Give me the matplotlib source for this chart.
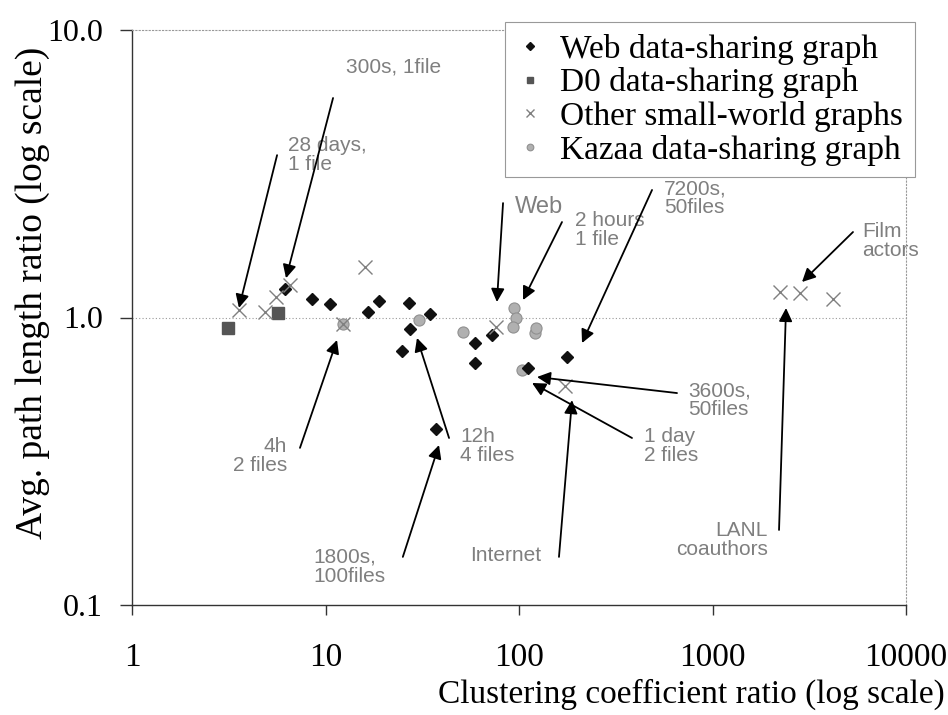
import matplotlib
matplotlib.use('Agg')
import matplotlib.pyplot as plt

# clustering coefficient ratio / avg. path length ratio for each graph family
web_cc = [6.18, 8.51, 10.5, 16.6, 18.9, 27.0, 34.7, 27.3, 24.8, 37.2, 59.3, 59.3, 72.5, 111, 177]
web_pl = [1.256, 1.16, 1.11, 1.045, 1.14, 1.12, 1.03, 0.912, 0.765, 0.41, 0.815, 0.695, 0.87, 0.667, 0.729]

d0_cc = [3.13, 5.68]
d0_pl = [0.919, 1.036]

other_cc = [3.57, 4.87, 5.55, 6.55, 16.0, 12.3, 76.1, 173, 2233, 2833, 4196]
other_pl = [1.06, 1.045, 1.18, 1.30, 1.50, 0.95, 0.927, 0.578, 1.23, 1.22, 1.16]

kazaa_cc = [12.3, 30.4, 51.4, 94.0, 96.0, 93.0, 121, 123, 103.6]
kazaa_pl = [0.95, 0.98, 0.89, 1.08, 0.995, 0.927, 0.88, 0.92, 0.656]

x_ticks = [1, 10, 100, 1000, 10000]
x_ticklabels = ['1', '10', '100', '1000', '10000']
y_ticks = [0.1, 1.0, 10.0]
y_ticklabels = ['0.1', '1.0', '10.0']

# callouts: label, text position, alignment, arrow tail, arrow head (data coords)
notes = [
    ('300s, 1file', (12.76, 7.44), 'left', (10.94, 5.80), (6.25, 1.37)),
    ('28 days,\n1 file', (6.40, 3.67), 'left', (5.62, 3.67), (3.57, 1.08)),
    ('4h\n2 files', (6.32, 0.330), 'right', (7.38, 0.352), (11.47, 0.835)),
    ('12h\n4 files', (49.6, 0.357), 'left', (43.5, 0.381), (29.7, 0.849)),
    ('1800s,\n100files', (8.62, 0.1356), 'left', (25.1, 0.147), (38.6, 0.360)),
    ('2 hours\n1 file', (194.7, 2.015), 'left', (166.8, 2.148), (104.9, 1.15)),
    ('7200s,\n50files', (561, 2.604), 'left', (487, 2.777), (211.7, 0.815)),
    ('3600s,\n50files', (747, 0.516), 'left', (655.5, 0.546), (123.9, 0.621)),
    ('1 day\n2 files', (442.6, 0.357), 'left', (383.6, 0.381), (116.8, 0.592)),
    ('Internet', (55.8, 0.149), 'left', (160.9, 0.147), (187.9, 0.516)),
    ('LANL\ncoauthors', (1936, 0.168), 'right', (2207, 0.1824), (2399, 1.079)),
    ('Film\nactors', (5925, 1.846), 'left', (5322, 1.983), (2901, 1.329)),
]
web_note = ('Web', (95.3, 2.423), (82.7, 2.50), (76.9, 1.132))

serif = ['Liberation Serif', 'DejaVu Serif']
sans = ['Liberation Sans', 'DejaVu Sans']

fig = plt.figure(figsize=(9.48, 7.15), dpi=100)
ax = fig.add_axes([132 / 948, 110 / 715, 774 / 948, 575 / 715])
ax.set_xscale('log')
ax.set_yscale('log')
ax.set_xlim(1, 10000)
ax.set_ylim(0.1, 10)

ax.axhline(1.0, color='#999999', lw=0.8, ls=(0, (1, 2)), zorder=1)

ax.plot(web_cc, web_pl, ls='none', marker='D', ms=6.4, color='#111111',
        label='Web data-sharing graph', zorder=4)
ax.plot(d0_cc, d0_pl, ls='none', marker='s', ms=8, color='#555555',
        label='D0 data-sharing graph', zorder=3)
ax.plot(other_cc, other_pl, ls='none', marker='x', ms=10, mew=1.0, color='#808080',
        label='Other small-world graphs', zorder=5)
ax.plot(kazaa_cc, kazaa_pl, ls='none', marker='o', ms=8, color='#b0b0b0',
        mec='#909090', mew=0.8, label='Kazaa data-sharing graph', zorder=3)

arrow = dict(arrowstyle='-|>', color='black', lw=1.3, mutation_scale=20,
             shrinkA=0, shrinkB=0)
for label, pos, ha, tail, head in notes:
    ax.text(pos[0], pos[1], label, ha=ha, va='center', multialignment=ha,
            fontsize=15, color='#7f7f7f', family=sans, linespacing=1.0)
    ax.annotate('', xy=head, xytext=tail, arrowprops=arrow, zorder=6)
label, pos, tail, head = web_note
ax.text(pos[0], pos[1], label, ha='left', va='center', fontsize=17,
        color='#7f7f7f', family=sans)
ax.annotate('', xy=head, xytext=tail, arrowprops=arrow, zorder=6)

# axes frame: solid left/bottom, dotted top/right
for side in ['top', 'right']:
    ax.spines[side].set_color('#999999')
    ax.spines[side].set_linestyle((0, (1, 2)))
    ax.spines[side].set_linewidth(0.8)
for side in ['left', 'bottom']:
    ax.spines[side].set_color('#333333')
    ax.spines[side].set_linewidth(1.0)

ax.set_xticks(x_ticks)
ax.set_xticklabels(x_ticklabels)
ax.set_yticks(y_ticks)
ax.set_yticklabels(y_ticklabels)
ax.minorticks_off()
ax.tick_params(axis='x', direction='out', length=7, width=1, pad=20,
               labelsize=24, colors='#333333', labelcolor='black')
ax.tick_params(axis='y', direction='out', length=9, width=1, pad=12,
               labelsize=23, colors='#333333', labelcolor='black')
for t in ax.get_xticklabels() + ax.get_yticklabels():
    t.set_family(serif)

ax.set_xlabel('Clustering coefficient ratio (log scale)', fontsize=24,
              family=serif, ha='right', va='center')
ax.xaxis.set_label_coords(1.05, -0.155)
ax.set_ylabel('Avg. path length ratio (log scale)', fontsize=27,
              family=serif, va='center')
ax.yaxis.set_label_coords(-0.128, 0.543)

leg = ax.legend(loc='upper right', bbox_to_anchor=(915 / 948, 1 - 22 / 715),
                bbox_transform=fig.transFigure, borderaxespad=0,
                prop={'family': serif, 'size': 24}, markerscale=0.6,
                handlelength=0.8, handletextpad=0.5, labelspacing=0.08,
                borderpad=0.35, fancybox=False, framealpha=1)
leg.get_frame().set_edgecolor('#999999')
leg.get_frame().set_linewidth(0.8)

fig.savefig('out.png', dpi=100)
